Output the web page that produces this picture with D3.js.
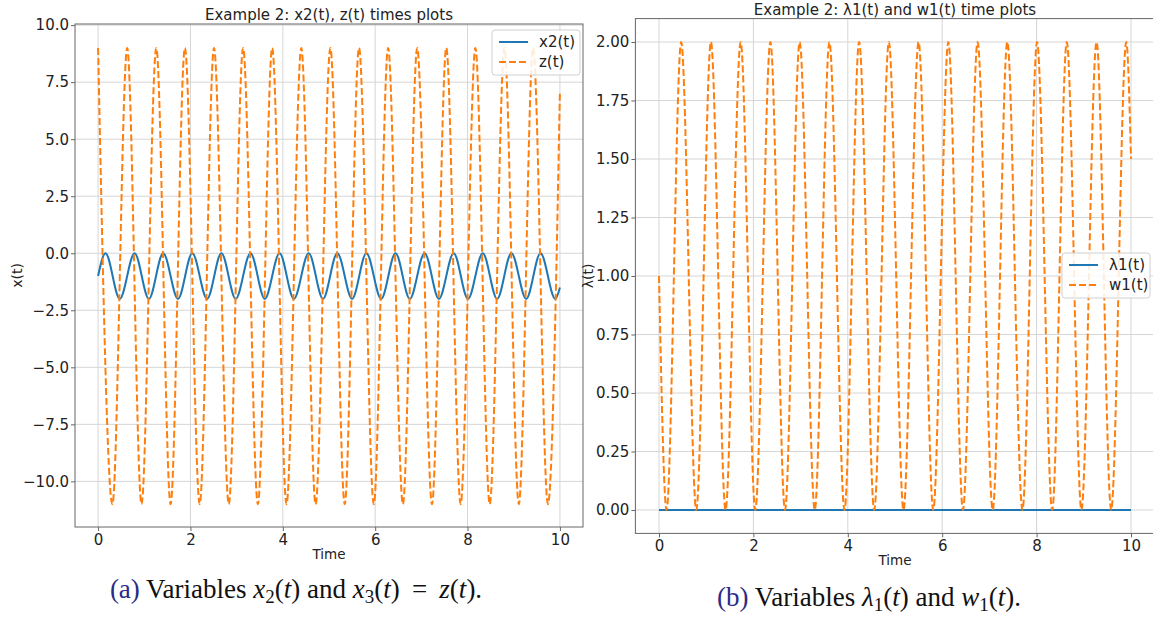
<!DOCTYPE html>
<html>
<head>
<meta charset="utf-8">
<script src="https://cdn.jsdelivr.net/npm/d3@7"></script>
<style>
  body { margin: 0; background: #fff; }
  text { font-family: "DejaVu Sans", sans-serif; fill: #222; }
  text.caption { font-family: "Liberation Serif", "DejaVu Serif", serif; fill: #111; }
</style>
</head>
<body>
<svg id="chart" width="1153" height="617"></svg>
<script>
// turning points (period ~0.63 s)
const tSin = [0, 0.16, 0.47, 0.79, 1.10, 1.41, 1.73, 2.04, 2.36, 2.67, 2.98, 3.30, 3.61, 3.93, 4.24, 4.56,
  4.87, 5.18, 5.50, 5.81, 6.13, 6.44, 6.75, 7.07, 7.38, 7.70, 8.01, 8.33, 8.64, 8.95, 9.27, 9.58, 9.90, 10];
const x2 = [-1, 0, -2, 0, -2, 0, -2, 0, -2, 0, -2, 0, -2, 0, -2, 0, -2,
  0, -2, 0, -2, 0, -2, 0, -2, 0, -2, 0, -2, 0, -2, 0, -2, -1.5];
const w1 = [1, 0, 2, 0, 2, 0, 2, 0, 2, 0, 2, 0, 2, 0, 2, 0, 2,
  0, 2, 0, 2, 0, 2, 0, 2, 0, 2, 0, 2, 0, 2, 0, 2, 1.5];

const tZ = [0, 0.31, 0.63, 0.94, 1.26, 1.57, 1.88, 2.20, 2.51, 2.83, 3.14, 3.46, 3.77, 4.08, 4.40, 4.71,
  5.03, 5.34, 5.65, 5.97, 6.28, 6.60, 6.91, 7.23, 7.54, 7.85, 8.17, 8.48, 8.80, 9.11, 9.42, 9.74, 10];
const z = [9, -11, 9, -11, 9, -11, 9, -11, 9, -11, 9, -11, 9, -11, 9, -11,
  9, -11, 9, -11, 9, -11, 9, -11, 9, -11, 9, -11, 9, -11, 9, -11, 7.1];

const tLam = [0, 10];
const lam1 = [0, 0];

const xTicks = [0, 2, 4, 6, 8, 10];
const yTicksA = [-10, -7.5, -5, -2.5, 0, 2.5, 5, 7.5, 10];
const yTicksB = [0, 0.25, 0.5, 0.75, 1, 1.25, 1.5, 1.75, 2];

const BLUE = '#1f77b4';
const ORANGE = '#ff7f0e';

const svg = d3.select('#chart');
const fmtMinus = s => s.replace('-', '\u2212');

function panel(opt) {
  const x = d3.scaleLinear().domain([-0.5, 10.5]).range([opt.left, opt.right]);
  const y = d3.scaleLinear().domain(opt.yDomain).range([opt.bottom, opt.top]);
  const g = svg.append('g');

  const clipId = 'clip-' + opt.id;
  g.append('clipPath').attr('id', clipId)
    .append('rect')
    .attr('x', opt.left).attr('y', opt.top)
    .attr('width', opt.right - opt.left).attr('height', opt.bottom - opt.top);

  // grid
  g.selectAll('.gx').data(xTicks).enter().append('line')
    .attr('x1', d => x(d)).attr('x2', d => x(d))
    .attr('y1', opt.top).attr('y2', opt.bottom)
    .attr('stroke', '#d6d6d6').attr('stroke-width', 1);
  g.selectAll('.gy').data(opt.yTicks).enter().append('line')
    .attr('x1', opt.left).attr('x2', opt.right)
    .attr('y1', d => y(d)).attr('y2', d => y(d))
    .attr('stroke', '#d6d6d6').attr('stroke-width', 1);

  // axes
  const xAxis = g.append('g')
    .attr('transform', `translate(0,${opt.bottom})`)
    .call(d3.axisBottom(x).tickValues(xTicks).tickSize(4).tickPadding(3).tickFormat(d3.format('d')));
  const yAxis = g.append('g')
    .attr('transform', `translate(${opt.left},0)`)
    .call(d3.axisLeft(y).tickValues(opt.yTicks).tickSize(4).tickPadding(2)
      .tickFormat(d => fmtMinus(d3.format(opt.yFormat)(d))));
  [xAxis, yAxis].forEach(a => {
    a.select('.domain').remove();
    a.selectAll('line').attr('stroke', '#666');
    a.selectAll('text').style('font-size', '15px').style('font-family', '"DejaVu Sans", sans-serif').attr('fill', '#222');
  });

  // frame
  g.append('rect')
    .attr('x', opt.left).attr('y', opt.top)
    .attr('width', opt.right - opt.left).attr('height', opt.bottom - opt.top)
    .attr('fill', 'none').attr('stroke', '#666').attr('stroke-width', 1);

  // series
  const line = d3.line().curve(d3.curveMonotoneX).x(d => x(d[0])).y(d => y(d[1]));
  const plot = g.append('g').attr('clip-path', `url(#${clipId})`);
  opt.series.forEach(s => {
    plot.append('path')
      .datum(d3.zip(s.t, s.v))
      .attr('d', line)
      .attr('fill', 'none')
      .attr('stroke', s.color)
      .attr('stroke-width', 2)
      .attr('stroke-dasharray', s.dash ? '7,3' : null);
  });

  // title + labels
  g.append('text')
    .attr('x', (opt.left + opt.right) / 2).attr('y', opt.titleY)
    .attr('text-anchor', 'middle').style('font-size', '15px')
    .text(opt.title);
  g.append('text')
    .attr('x', (opt.left + opt.right) / 2).attr('y', opt.bottom + 32)
    .attr('text-anchor', 'middle').style('font-size', '13.5px')
    .text('Time');
  g.append('text')
    .attr('transform', `translate(${opt.ylabelX},${(opt.top + opt.bottom) / 2}) rotate(-90)`)
    .attr('text-anchor', 'middle').style('font-size', '14px')
    .text(opt.ylabel);

  // legend
  const lg = g.append('g').attr('transform', `translate(${opt.legend.x},${opt.legend.y})`);
  lg.append('rect')
    .attr('width', 88).attr('height', 45).attr('rx', 3)
    .attr('fill', '#fff').attr('fill-opacity', 0.85)
    .attr('stroke', '#d0d0d0');
  opt.series.forEach((s, i) => {
    const yy = 12 + i * 20;
    lg.append('line')
      .attr('x1', 7).attr('x2', 36).attr('y1', yy).attr('y2', yy)
      .attr('stroke', s.color).attr('stroke-width', 2)
      .attr('stroke-dasharray', s.dash ? '7,3' : null);
    lg.append('text')
      .attr('x', 47).attr('y', yy + 5)
      .style('font-size', '15px')
      .text(s.name);
  });
}

panel({
  id: 'a', left: 75, right: 583, top: 24, bottom: 527,
  yDomain: [-12.0, 10.05], yTicks: yTicksA, yFormat: '.1f', titleY: 20,
  title: 'Example 2: x2(t), z(t) times plots', ylabel: 'x(t)', ylabelX: 22,
  legend: { x: 492, y: 30 },
  series: [
    { name: 'x2(t)', t: tSin, v: x2, color: BLUE },
    { name: 'z(t)', t: tZ, v: z, color: ORANGE, dash: true }
  ]
});

panel({
  id: 'b', left: 635.4, right: 1154.6, top: 18.6, bottom: 533.4,
  yDomain: [-0.1, 2.1], yTicks: yTicksB, yFormat: '.2f', titleY: 15,
  title: 'Example 2: \u03bb1(t) and w1(t) time plots', ylabel: '\u03bb(t)', ylabelX: 593,
  legend: { x: 1062, y: 253 },
  series: [
    { name: '\u03bb1(t)', t: tLam, v: lam1, color: BLUE },
    { name: 'w1(t)', t: tSin, v: w1, color: ORANGE, dash: true }
  ]
});

// captions
function caption(cx, cy, tag, parts) {
  const t = svg.append('text').attr('class', 'caption')
    .attr('x', cx).attr('y', cy).attr('text-anchor', 'middle')
    .style('font-size', '27px');
  t.append('tspan').style('fill', '#2b2b85').text(tag + ' ');
  parts.forEach(p => {
    const sp = t.append('tspan').text(p.s);
    if (p.i) sp.style('font-style', 'italic');
    if (p.sub) sp.style('font-size', '19px').attr('dy', 5);
    if (p.up) sp.attr('dy', -5);
  });
}

caption(296, 598, '(a)', [
  { s: 'Variables ' }, { s: 'x', i: true }, { s: '2', sub: true }, { s: '(', up: true }, { s: 't', i: true },
  { s: ') and ' }, { s: 'x', i: true }, { s: '3', sub: true }, { s: '(', up: true }, { s: 't', i: true },
  { s: ') \u2009=\u2009 ' }, { s: 'z', i: true }, { s: '(' }, { s: 't', i: true }, { s: ').' }
]);

caption(869, 606, '(b)', [
  { s: 'Variables ' }, { s: '\u03bb', i: true }, { s: '1', sub: true }, { s: '(', up: true }, { s: 't', i: true },
  { s: ') and ' }, { s: 'w', i: true }, { s: '1', sub: true }, { s: '(', up: true }, { s: 't', i: true },
  { s: ').' }
]);
</script>
</body>
</html>
